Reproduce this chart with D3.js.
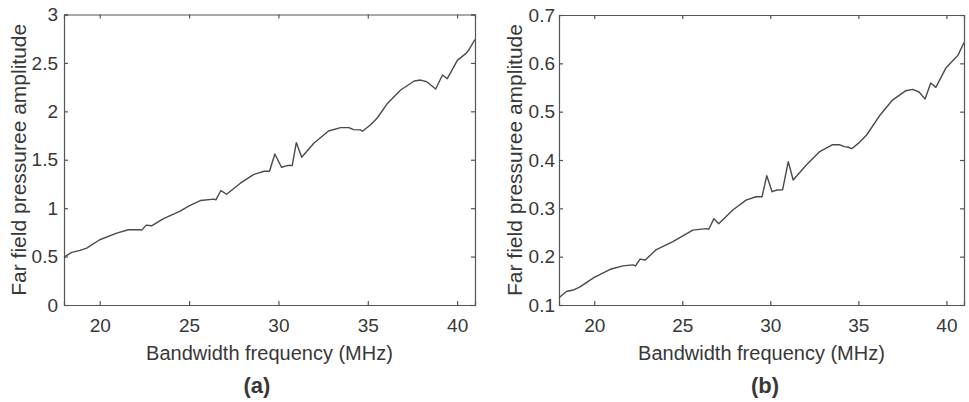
<!DOCTYPE html>
<html>
<head>
<meta charset="utf-8">
<script src="https://cdn.jsdelivr.net/npm/d3@7"></script>
<style>
  body { margin: 0; background: #fff; }
  text { font-family: "Liberation Sans", Arial, sans-serif; fill: #383838; }
</style>
</head>
<body>
<div id="chart"></div>
<script>
// frequency samples (MHz) and amplitudes
const freqA = [18, 18.43, 18.9, 19.27, 20, 20.95, 21.6, 22.26, 22.35, 22.6, 22.9, 23.57, 24.5, 25, 25.63, 26.4, 26.5, 26.78, 27.1, 27.87, 28.6, 29.2, 29.5, 29.8, 30.17, 30.5, 30.77, 31.0, 31.3, 31.98, 32.8, 33.48, 33.94, 34.2, 34.6, 34.7, 35.16, 35.53, 36.1, 36.84, 37.6, 37.96, 38.3, 38.8, 39.18, 39.45, 40.02, 40.5, 40.67, 41];
const ampA = [0.495, 0.543, 0.564, 0.588, 0.674, 0.742, 0.777, 0.777, 0.773, 0.825, 0.818, 0.893, 0.969, 1.024, 1.079, 1.093, 1.086, 1.182, 1.144, 1.258, 1.347, 1.381, 1.381, 1.56, 1.423, 1.44, 1.44, 1.677, 1.526, 1.67, 1.797, 1.832, 1.832, 1.811, 1.808, 1.794, 1.862, 1.931, 2.082, 2.22, 2.313, 2.323, 2.306, 2.23, 2.375, 2.337, 2.529, 2.598, 2.639, 2.742];

// panel (b)
const freqB = [18, 18.42, 18.8, 19.17, 20, 20.97, 21.63, 22.2, 22.35, 22.6, 22.9, 23.5, 24.47, 25.03, 25.6, 26.36, 26.5, 26.8, 27.07, 27.87, 28.62, 29.19, 29.53, 29.8, 30.1, 30.38, 30.7, 31.02, 31.3, 32.03, 32.78, 33.54, 33.92, 34.2, 34.4, 34.62, 35.05, 35.47, 36.19, 36.94, 37.7, 38.08, 38.45, 38.79, 39.11, 39.4, 39.96, 40.44, 40.66, 41];
const ampB = [0.115, 0.128, 0.131, 0.137, 0.157, 0.1745, 0.181, 0.183, 0.181, 0.195, 0.193, 0.214, 0.231, 0.243, 0.255, 0.258, 0.2566, 0.2786, 0.268, 0.2966, 0.317, 0.324, 0.324, 0.3676, 0.3345, 0.338, 0.3386, 0.3966, 0.3586, 0.389, 0.4166, 0.4317, 0.4317, 0.4276, 0.4269, 0.4234, 0.436, 0.4517, 0.491, 0.524, 0.5434, 0.546, 0.5407, 0.526, 0.5593, 0.5503, 0.5897, 0.6083, 0.617, 0.643];

const xTicks = [20, 25, 30, 35, 40];
const yTicksA = [0, 0.5, 1, 1.5, 2, 2.5, 3];
const yTicksB = [0.1, 0.2, 0.3, 0.4, 0.5, 0.6, 0.7];

const W = 969, H = 402;
const svg = d3.select("#chart").append("svg")
    .attr("width", W)
    .attr("height", H);

function drawPanel(p) {
    const x = d3.scaleLinear().domain([18, 41]).range([p.left, p.right]);
    const y = d3.scaleLinear().domain(p.yDomain).range([p.bottom, p.top]);
    const g = svg.append("g");

    // bottom axis with labels, ticks pointing inward
    const bx = g.append("g")
        .attr("transform", `translate(0,${p.bottom})`)
        .call(d3.axisBottom(x).tickValues(xTicks).tickSize(-4).tickPadding(14).tickFormat(d3.format("d")));
    // top axis, ticks only
    const tx = g.append("g")
        .attr("transform", `translate(0,${p.top})`)
        .call(d3.axisTop(x).tickValues(xTicks).tickSize(-4).tickFormat(""));
    // left axis with labels
    const ly = g.append("g")
        .attr("transform", `translate(${p.left},0)`)
        .call(d3.axisLeft(y).tickValues(p.yTicks).tickSize(-4).tickPadding(p.ypad).tickFormat(d => String(d)));
    // right axis, ticks only
    const ry = g.append("g")
        .attr("transform", `translate(${p.right},0)`)
        .call(d3.axisRight(y).tickValues(p.yTicks).tickSize(-4).tickFormat(""));

    g.selectAll(".domain").attr("stroke", "#555").attr("stroke-width", 1.2);
    g.selectAll(".tick line").attr("stroke", "#555").attr("stroke-width", 1.2);
    g.selectAll(".tick text")
        .style("font-family", "'Liberation Sans', Arial, sans-serif")
        .style("font-size", "19px")
        .attr("fill", "#383838");

    // curve
    const pts = p.freq.map((f, i) => [f, p.amp[i]]);
    g.append("path")
        .datum(pts)
        .attr("fill", "none")
        .attr("stroke", "#4a4a4a")
        .attr("stroke-width", 1.4)
        .attr("stroke-linejoin", "round")
        .attr("d", d3.line().x(d => x(d[0])).y(d => y(d[1])));

    // axis titles
    g.append("text")
        .attr("x", (p.left + p.right) / 2)
        .attr("y", 360)
        .attr("text-anchor", "middle")
        .style("font-size", "20px")
        .text("Bandwidth frequency (MHz)");

    g.append("text")
        .attr("transform", `translate(${p.ylabX},${(p.top + p.bottom) / 2}) rotate(-90)`)
        .attr("text-anchor", "middle")
        .attr("dy", "0.35em")
        .style("font-size", "21px")
        .text("Far field pressuree amplitude");

    g.append("text")
        .attr("x", p.tagX)
        .attr("y", 393)
        .attr("text-anchor", "middle")
        .style("font-size", "22px")
        .style("font-weight", "bold")
        .attr("fill", "#111")
        .text(p.tag);
}

drawPanel({
    left: 64, right: 475, top: 14.5, bottom: 305,
    yDomain: [0, 3], yTicks: yTicksA, ypad: 6,
    freq: freqA, amp: ampA,
    ylabX: 19, tagX: 257, tag: "(a)"
});

drawPanel({
    left: 559, right: 964, top: 15, bottom: 305,
    yDomain: [0.1, 0.7], yTicks: yTicksB, ypad: 4,
    freq: freqB, amp: ampB,
    ylabX: 515, tagX: 765, tag: "(b)"
});
</script>
</body>
</html>
